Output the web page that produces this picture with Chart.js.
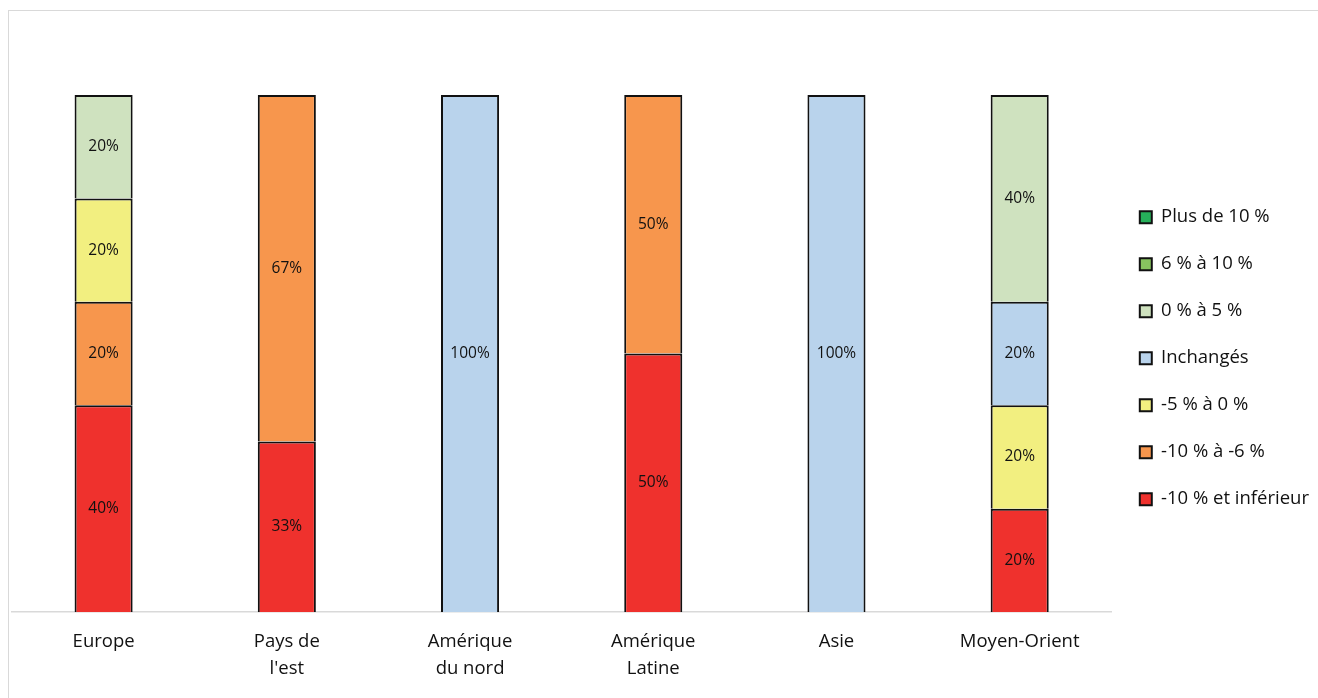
<!DOCTYPE html>
<html>
<head>
<meta charset="utf-8">
<script src="https://cdn.jsdelivr.net/npm/chart.js@4.4.0/dist/chart.umd.min.js"></script>
<style>
  html, body { margin: 0; padding: 0; background: #fff; overflow: hidden; }
  #frame { position: absolute; left: 8px; top: 10px; width: 1400px; height: 800px;
           border: 1px solid #d9d9d9; box-sizing: border-box; }
  #wrap { position: absolute; left: 0; top: 0; width: 1318px; height: 698px; }
</style>
</head>
<body>
<div id="frame"></div>
<div id="wrap"><canvas id="chart"></canvas></div>
<script>
const regions = ["Europe", ["Pays de", "l'est"], ["Amérique", "du nord"], ["Amérique", "Latine"], "Asie", "Moyen-Orient"];

// series, bottom to top of each stack
const seriesNames = ["-10 % et inférieur", "-10 % à -6 %", "-5 % à 0 %", "Inchangés", "0 % à 5 %", "6 % à 10 %", "Plus de 10 %"];
const seriesColors = ["#ef312d", "#f7964d", "#f2ef80", "#b9d3ec", "#cfe2bf", "#88c45f", "#26b05a"];

const moinsDe10 = [40, 33, 0, 50, 0, 20];
const moins10a6 = [20, 67, 0, 50, 0, 0];
const moins5a0 = [20, 0, 0, 0, 0, 20];
const inchanges = [0, 0, 100, 0, 100, 20];
const zeroA5 = [20, 0, 0, 0, 0, 40];
const sixA10 = [0, 0, 0, 0, 0, 0];
const plusDe10 = [0, 0, 0, 0, 0, 0];

const seriesValues = [moinsDe10, moins10a6, moins5a0, inchanges, zeroA5, sixA10, plusDe10];

const FONT = "'Open Sans', sans-serif";

const barLabels = {
  id: 'barLabels',
  afterDatasetsDraw(chart) {
    const ctx = chart.ctx;
    ctx.save();
    ctx.font = "15.5px " + FONT;
    ctx.fillStyle = "#111";
    ctx.textAlign = "center";
    ctx.textBaseline = "middle";
    chart.data.datasets.forEach((ds, i) => {
      const meta = chart.getDatasetMeta(i);
      meta.data.forEach((el, j) => {
        const v = ds.data[j];
        if (!v) return;
        const p = el.getCenterPoint();
        ctx.fillText(v + "%", p.x, p.y);
      });
    });
    ctx.restore();
  }
};

new Chart(document.getElementById('chart'), {
  type: 'bar',
  data: {
    labels: regions,
    datasets: seriesNames.map((name, i) => ({
      label: name,
      data: seriesValues[i],
      backgroundColor: seriesColors[i],
      borderColor: "#111",
      borderWidth: 2,
      categoryPercentage: 1,
      barPercentage: 0.317
    }))
  },
  options: {
    responsive: true,
    maintainAspectRatio: false,
    animation: false,
    layout: { padding: { left: 12, top: 95, right: -1, bottom: -1 } },
    plugins: {
      tooltip: { enabled: false },
      legend: {
        position: 'right',
        align: 'start',
        reverse: true,
        title: { display: true, text: '', padding: { top: 70, bottom: 0 } },
        labels: {
          boxWidth: 12, boxHeight: 12, padding: 28.5,
          color: "#111",
          font: { family: FONT, size: 18.5 }
        }
      }
    },
    scales: {
      x: {
        stacked: true,
        grid: { display: false, drawTicks: false },
        border: { display: true, color: "#d9d9d9", width: 1.5 },
        ticks: { color: "#111", padding: 16.6, font: { family: FONT, size: 18.5, lineHeight: 1.45 }, maxRotation: 0 }
      },
      y: {
        stacked: true,
        display: false,
        min: 0, max: 100
      }
    }
  },
  plugins: [barLabels]
});
</script>
</body>
</html>
